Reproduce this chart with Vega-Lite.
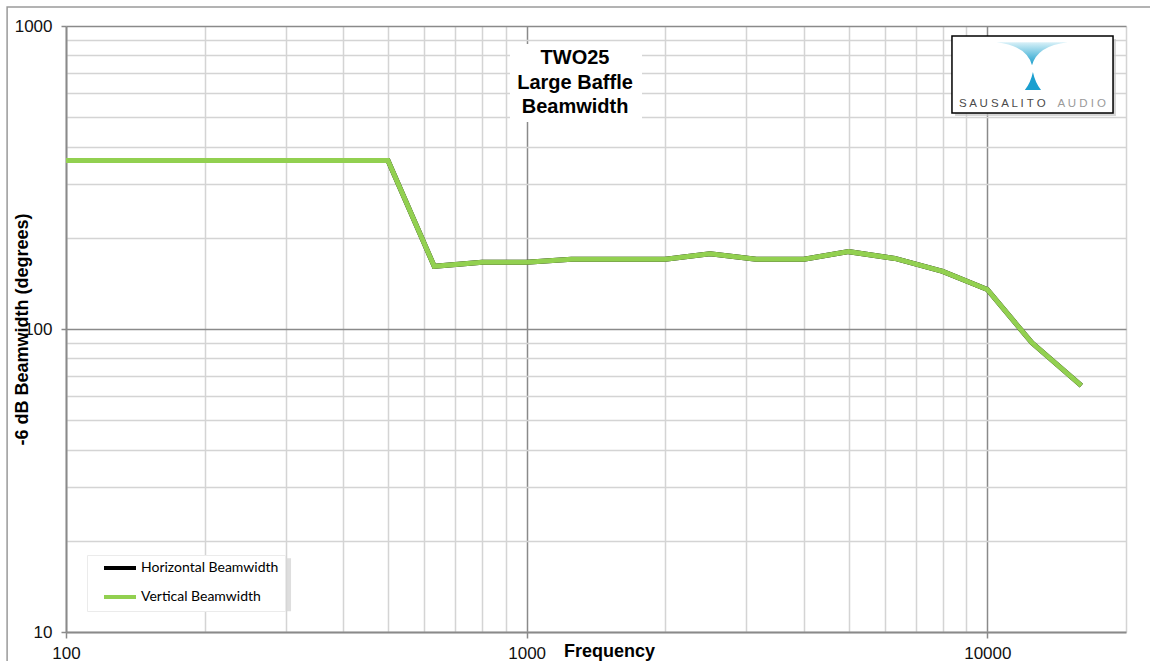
{
  "$schema": "https://vega.github.io/schema/vega-lite/v6.json",
  "width": 1060,
  "height": 606,
  "autosize": {"type": "none"},
  "padding": {"left": 66, "top": 26, "right": 24, "bottom": 29},
  "background": "white",
  "config": {
    "view": {"stroke": null},
    "font": "Liberation Sans"
  },
  "datasets": {
    "beam": [
      {"f": 100, "bw": 360, "series": "Horizontal Beamwidth"},
      {"f": 125, "bw": 360, "series": "Horizontal Beamwidth"},
      {"f": 160, "bw": 360, "series": "Horizontal Beamwidth"},
      {"f": 200, "bw": 360, "series": "Horizontal Beamwidth"},
      {"f": 250, "bw": 360, "series": "Horizontal Beamwidth"},
      {"f": 315, "bw": 360, "series": "Horizontal Beamwidth"},
      {"f": 400, "bw": 360, "series": "Horizontal Beamwidth"},
      {"f": 500, "bw": 360, "series": "Horizontal Beamwidth"},
      {"f": 630, "bw": 161, "series": "Horizontal Beamwidth"},
      {"f": 800, "bw": 166, "series": "Horizontal Beamwidth"},
      {"f": 1000, "bw": 166, "series": "Horizontal Beamwidth"},
      {"f": 1250, "bw": 170, "series": "Horizontal Beamwidth"},
      {"f": 1600, "bw": 170, "series": "Horizontal Beamwidth"},
      {"f": 2000, "bw": 170, "series": "Horizontal Beamwidth"},
      {"f": 2500, "bw": 177, "series": "Horizontal Beamwidth"},
      {"f": 3150, "bw": 170, "series": "Horizontal Beamwidth"},
      {"f": 4000, "bw": 170, "series": "Horizontal Beamwidth"},
      {"f": 5000, "bw": 180, "series": "Horizontal Beamwidth"},
      {"f": 6300, "bw": 171, "series": "Horizontal Beamwidth"},
      {"f": 8000, "bw": 155, "series": "Horizontal Beamwidth"},
      {"f": 10000, "bw": 135, "series": "Horizontal Beamwidth"},
      {"f": 12500, "bw": 90, "series": "Horizontal Beamwidth"},
      {"f": 16000, "bw": 65, "series": "Horizontal Beamwidth"},
      {"f": 100, "bw": 360, "series": "Vertical Beamwidth"},
      {"f": 125, "bw": 360, "series": "Vertical Beamwidth"},
      {"f": 160, "bw": 360, "series": "Vertical Beamwidth"},
      {"f": 200, "bw": 360, "series": "Vertical Beamwidth"},
      {"f": 250, "bw": 360, "series": "Vertical Beamwidth"},
      {"f": 315, "bw": 360, "series": "Vertical Beamwidth"},
      {"f": 400, "bw": 360, "series": "Vertical Beamwidth"},
      {"f": 500, "bw": 360, "series": "Vertical Beamwidth"},
      {"f": 630, "bw": 161, "series": "Vertical Beamwidth"},
      {"f": 800, "bw": 166, "series": "Vertical Beamwidth"},
      {"f": 1000, "bw": 166, "series": "Vertical Beamwidth"},
      {"f": 1250, "bw": 170, "series": "Vertical Beamwidth"},
      {"f": 1600, "bw": 170, "series": "Vertical Beamwidth"},
      {"f": 2000, "bw": 170, "series": "Vertical Beamwidth"},
      {"f": 2500, "bw": 177, "series": "Vertical Beamwidth"},
      {"f": 3150, "bw": 170, "series": "Vertical Beamwidth"},
      {"f": 4000, "bw": 170, "series": "Vertical Beamwidth"},
      {"f": 5000, "bw": 180, "series": "Vertical Beamwidth"},
      {"f": 6300, "bw": 171, "series": "Vertical Beamwidth"},
      {"f": 8000, "bw": 155, "series": "Vertical Beamwidth"},
      {"f": 10000, "bw": 135, "series": "Vertical Beamwidth"},
      {"f": 12500, "bw": 90, "series": "Vertical Beamwidth"},
      {"f": 16000, "bw": 65, "series": "Vertical Beamwidth"}
    ],
    "one": [{}]
  },
  "layer": [
    {
      "data": {"name": "one"},
      "mark": {"type": "rect", "filled": false, "stroke": "#9a9a9a", "strokeWidth": 1.5},
      "encoding": {
        "x": {"datum": 74.5},
        "x2": {"datum": 24000},
        "y": {"datum": 1155},
        "y2": {"datum": 7.4}
      }
    },
    {
      "data": {"name": "one"},
      "mark": {"type": "rect", "fill": "#d6d6d6", "opacity": 0.8},
      "encoding": {
        "x": {"datum": 112.7},
        "x2": {"datum": 308},
        "y": {"datum": 17.5},
        "y2": {"datum": 11.7}
      }
    },
    {
      "data": {"name": "beam"},
      "mark": {"type": "line", "strokeWidth": 5},
      "encoding": {
        "x": {
          "field": "f",
          "type": "quantitative",
          "scale": {"type": "log", "domain": [100, 20000], "nice": false},
          "axis": {
            "values": [100, 200, 300, 400, 500, 600, 700, 800, 900, 1000, 2000, 3000, 4000, 5000, 6000, 7000, 8000, 9000, 10000, 20000],
            "labelExpr": "indexof([100, 1000, 10000], datum.value) >= 0 ? format(datum.value, 'd') : ''",
            "labelOverlap": false,
            "labelFlush": false,
            "labelFontSize": 17,
            "labelColor": "#111",
            "labelPadding": 7,
            "tickSize": 6,
            "tickColor": "#8a8a8a",
            "tickWidth": 1.5,
            "tickOpacity": {"condition": {"test": "indexof([100, 1000, 10000], datum.value) >= 0", "value": 1}, "value": 0},
            "domainColor": "#8a8a8a",
            "domainWidth": 2,
            "grid": true,
            "gridWidth": 1.5,
            "gridColor": {"condition": {"test": "indexof([1000, 10000], datum.value) >= 0", "value": "#8a8a8a"}, "value": "#d4d4d4"},
            "title": "Frequency",
            "titleFontSize": 18,
            "titleFontWeight": "bold",
            "titleColor": "#000",
            "titleX": 543,
            "titleY": 24,
            "titleAlign": "center",
            "titleBaseline": "alphabetic"
          }
        },
        "y": {
          "field": "bw",
          "type": "quantitative",
          "scale": {"type": "log", "domain": [10, 1000], "nice": false},
          "axis": {
            "values": [10, 20, 30, 40, 50, 60, 70, 80, 90, 100, 200, 300, 400, 500, 600, 700, 800, 900, 1000],
            "labelExpr": "indexof([10, 100, 1000], datum.value) >= 0 ? format(datum.value, 'd') : ''",
            "labelOverlap": false,
            "labelFlush": false,
            "labelFontSize": 17,
            "labelColor": "#111",
            "labelPadding": 9,
            "tickSize": 5,
            "tickColor": "#8a8a8a",
            "tickWidth": 1.5,
            "tickOpacity": {"condition": {"test": "indexof([10, 100, 1000], datum.value) >= 0", "value": 1}, "value": 0},
            "domainColor": "#8a8a8a",
            "domainWidth": 2,
            "grid": true,
            "gridWidth": 1.5,
            "gridColor": {"condition": {"test": "indexof([100, 1000], datum.value) >= 0", "value": "#8a8a8a"}, "value": "#d4d4d4"},
            "title": "-6 dB Beamwidth (degrees)",
            "titleFontSize": 18,
            "titleFontWeight": "bold",
            "titleColor": "#000",
            "titleAngle": 270,
            "titleX": -39,
            "titleY": 303,
            "titleAlign": "center",
            "titleBaseline": "alphabetic"
          }
        },
        "color": {
          "field": "series",
          "type": "nominal",
          "scale": {"domain": ["Horizontal Beamwidth", "Vertical Beamwidth"], "range": ["#000000", "#92d050"]},
          "legend": {
            "title": null,
            "orient": "none",
            "legendX": 21,
            "legendY": 529,
            "direction": "vertical",
            "fillColor": "white",
            "strokeColor": "#ebebeb",
            "padding": 6,
            "rowPadding": 13,
            "symbolType": "M-4,0L4,0",
            "symbolSize": 64,
            "symbolStrokeWidth": 4,
            "symbolOffset": 20,
            "labelOffset": 14,
            "labelFont": "Lato",
            "labelFontSize": 14,
            "labelColor": "#000"
          }
        }
      }
    },
    {
      "data": {"name": "one"},
      "mark": {"type": "rect", "fill": "white"},
      "encoding": {
        "x": {"datum": 920},
        "x2": {"datum": 1780},
        "y": {"datum": 872},
        "y2": {"datum": 482}
      }
    },
    {
      "data": {"name": "one"},
      "mark": {
        "type": "text",
        "text": ["TWO25", "Large Baffle", "Beamwidth"],
        "align": "center",
        "baseline": "alphabetic",
        "fontSize": 20,
        "fontWeight": "bold",
        "lineHeight": 24.5,
        "color": "#000"
      },
      "encoding": {
        "x": {"datum": 1273.5},
        "y": {"datum": 749}
      }
    },
    {
      "data": {"name": "one"},
      "mark": {"type": "rect", "fill": "#c4c4c4", "opacity": 0.7},
      "encoding": {
        "x": {"datum": 8510},
        "x2": {"datum": 19023},
        "y": {"datum": 906},
        "y2": {"datum": 504.7}
      }
    },
    {
      "data": {"name": "one"},
      "mark": {"type": "rect", "fill": "white", "stroke": "#000", "strokeWidth": 1.5},
      "encoding": {
        "x": {"datum": 8380},
        "x2": {"datum": 18745},
        "y": {"datum": 926.8},
        "y2": {"datum": 516.3}
      }
    },
    {
      "data": {"name": "one"},
      "mark": {
        "type": "point",
        "shape": "M-1,-0.32 Q-0.15,-0.22 0,0.33 Q0.15,-0.22 1,-0.32 Z",
        "size": 5041,
        "filled": true,
        "opacity": 1,
        "strokeWidth": 0,
        "fill": {
          "gradient": "linear",
          "x1": 0, "y1": 0, "x2": 0, "y2": 1,
          "stops": [
            {"offset": 0, "color": "#d9f1f8"},
            {"offset": 0.45, "color": "#7fcbe4"},
            {"offset": 1, "color": "#1b9dcb"}
          ]
        }
      },
      "encoding": {
        "x": {"datum": 12503},
        "y": {"datum": 811}
      }
    },
    {
      "data": {"name": "one"},
      "mark": {
        "type": "point",
        "shape": "M0,-1 Q0.25,0.2 0.9,1 L-0.9,1 Q-0.25,0.2 0,-1 Z",
        "size": 324,
        "filled": true,
        "opacity": 1,
        "strokeWidth": 0,
        "fill": "#1b9fcf"
      },
      "encoding": {
        "x": {"datum": 12560},
        "y": {"datum": 658}
      }
    },
    {
      "data": {"name": "one"},
      "mark": {"type": "text", "text": "S A U S A L I T O", "align": "left", "baseline": "alphabetic", "fontSize": 11.5, "color": "#4a4a4a"},
      "encoding": {
        "x": {"datum": 8680},
        "y": {"datum": 540}
      }
    },
    {
      "data": {"name": "one"},
      "mark": {"type": "text", "text": "A U D I O", "align": "right", "baseline": "alphabetic", "fontSize": 11.5, "color": "#9a9a9a"},
      "encoding": {
        "x": {"datum": 18097},
        "y": {"datum": 540}
      }
    }
  ]
}
